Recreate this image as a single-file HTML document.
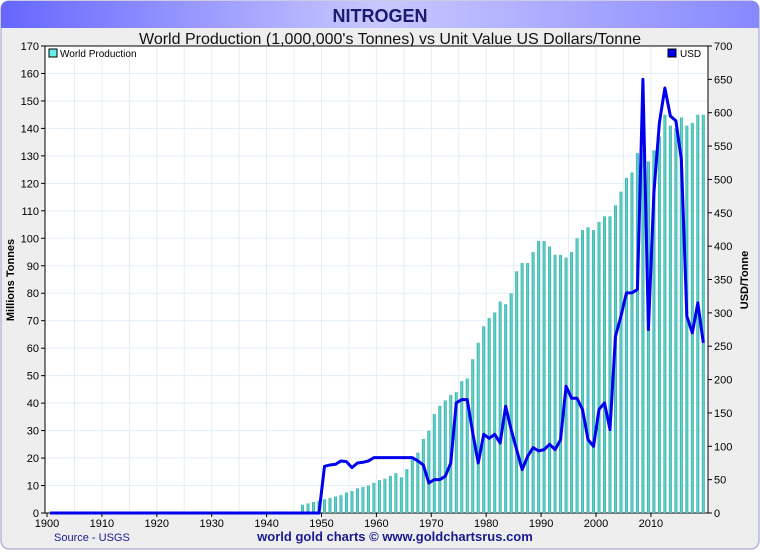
<!DOCTYPE html>
<html><head><meta charset="utf-8"><style>
body{margin:0;width:760px;height:550px;overflow:hidden;background:#fff;font-family:"Liberation Sans",sans-serif}
</style></head><body>
<svg id="c" width="760" height="550" xmlns="http://www.w3.org/2000/svg">
<defs>
<linearGradient id="tg" x1="0" x2="1" y1="0" y2="0"><stop offset="0" stop-color="#6666ff"/><stop offset="0.5" stop-color="#c8c8ff"/><stop offset="1" stop-color="#8888ff"/></linearGradient>
<linearGradient id="bg" x1="0" x2="1"><stop offset="0" stop-color="#2fa8a0"/><stop offset="0.5" stop-color="#6ad8d2"/><stop offset="1" stop-color="#2fa8a0"/></linearGradient>
</defs>
<rect x="1" y="1" width="758" height="548" rx="8" fill="#eeeeee" stroke="#9999cc"/>
<path d="M1,28 L1,9 Q1,1 9,1 L751,1 Q759,1 759,9 L759,28 Z" fill="url(#tg)"/>
<text x="380" y="22" text-anchor="middle" font-size="18" font-weight="bold" fill="#1a1a6e">NITROGEN</text>
<text x="390" y="44" text-anchor="middle" font-size="16" fill="#111">World Production (1,000,000's Tonnes) vs Unit Value US Dollars/Tonne</text>
<rect x="45" y="46" width="663" height="467" fill="#fff" stroke="#000"/>
<g id="grid"></g><g id="bars"></g><g id="line"></g><g id="axes"></g>
<rect x="49" y="49" width="8" height="8" fill="#66eeee" stroke="#000"/>
<text x="60" y="57" font-size="10" fill="#000">World Production</text>
<rect x="668" y="49" width="8" height="8" fill="#0000ee" stroke="#000"/>
<text x="680" y="57" font-size="10" fill="#000">USD</text>
<text x="14" y="280" transform="rotate(-90 14 280)" text-anchor="middle" font-size="11" font-weight="bold">Millions Tonnes</text>
<text x="748" y="280" transform="rotate(-90 748 280)" text-anchor="middle" font-size="11" font-weight="bold">USD/Tonne</text>
<text x="54" y="541" font-size="11" fill="#1a1a8e">Source - USGS</text>
<text x="395" y="541" text-anchor="middle" font-size="13" font-weight="bold" fill="#1a1a8e">world gold charts © www.goldchartsrus.com</text>
</svg>
<script>
const prodYears=[];for(let y=1946;y<=2019;y++)prodYears.push(y);
const production=[3,3.5,4,4.5,5,5.5,6,6.5,7.5,8,9,9.5,10,11,12,12.5,13.5,14.5,13,16,20,22,27,30,36,39,41,43,44,48,49,56,62,68,71,73,77,76,80,88,91,91,95,99,99,97,94,94,93,95,100,103,104,103,106,108,108,112,117,122,124,131,132,128,132,137,145,141,140,144,141,142,145,145];
const usdYears=[];for(let y=1900;y<=2019;y++)usdYears.push(y);
const usdPost=[70,72,73,78,77,68,75,76,78,83,83,83,83,83,83,83,83,78,72,45,50,50,55,75,165,170,170,120,75,118,112,118,105,160,125,95,65,85,98,93,95,103,95,110,190,172,172,155,110,100,155,165,125,265,295,330,330,335,650,275,480,585,637,595,588,530,295,270,315,255];
const usd=[];for(let i=0;i<50;i++)usd.push(0);usdPost.forEach(v=>usd.push(v));
const xTicks=[1900,1910,1920,1930,1940,1950,1960,1970,1980,1990,2000,2010];
const leftTicks=[0,10,20,30,40,50,60,70,80,90,100,110,120,130,140,150,160,170];
const rightTicks=[0,50,100,150,200,250,300,350,400,450,500,550,600,650,700];
const NS='http://www.w3.org/2000/svg';
const X=y=>47+(y-1900)*5.49, YL=v=>513-v*467/170, YR=v=>513-v*467/700;
function mk(t,a,p){const e=document.createElementNS(NS,t);for(const k in a)e.setAttribute(k,a[k]);document.getElementById(p).appendChild(e);return e;}
for(let y=1905;y<=2015;y+=5){const e=mk('line',{x1:X(y),x2:X(y),y1:47,y2:512,stroke:'#e2eef8'},'grid');

}
leftTicks.slice(1,-1).forEach(v=>{const e=mk('line',{x1:46,x2:707,y1:YL(v),y2:YL(v),stroke:'#e2eef8'},'grid');

});
prodYears.forEach((y,i)=>{const v=production[i];const e=mk('rect',{x:X(y)+1.5,y:YL(v),width:3,height:513-YL(v),fill:'url(#bg)'},'bars');

});
const pts=usdYears.map((y,i)=>(X(y)+3)+','+YR(usd[i])).join(' ');
const pl=mk('polyline',{points:pts,fill:'none',stroke:'#0000ee','stroke-width':3,'stroke-linejoin':'round'},'line');


xTicks.forEach(y=>{mk('line',{x1:X(y),x2:X(y),y1:513,y2:517,stroke:'#000'},'axes');const t=mk('text',{x:X(y),y:527,'text-anchor':'middle','font-size':11},'axes');t.textContent=y;

});
leftTicks.forEach(v=>{mk('line',{x1:41,x2:45,y1:YL(v),y2:YL(v),stroke:'#000'},'axes');const t=mk('text',{x:39,y:YL(v)+4,'text-anchor':'end','font-size':11},'axes');t.textContent=v;

});
rightTicks.forEach(v=>{mk('line',{x1:708,x2:712,y1:YR(v),y2:YR(v),stroke:'#000'},'axes');const t=mk('text',{x:714,y:YR(v)+4,'font-size':11},'axes');t.textContent=v;

});
</script>
</body></html>
